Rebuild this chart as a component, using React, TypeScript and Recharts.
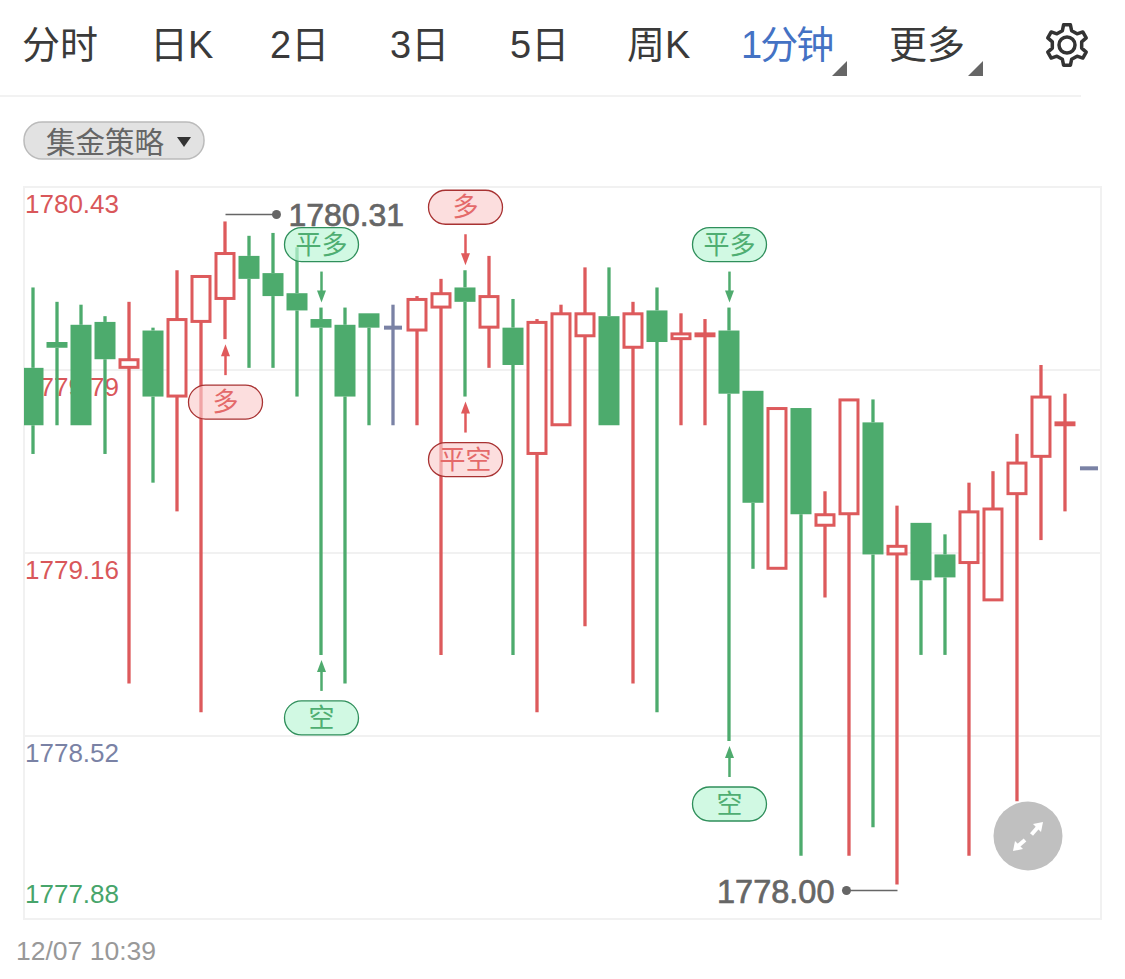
import { ComposedChart, Bar, XAxis, YAxis, CartesianGrid, ReferenceArea, ReferenceDot } from 'recharts';

const SANS = '"Liberation Sans", "Noto Sans CJK SC", sans-serif';
const RED = '#dd5a5c';
const GREEN = '#4dab6d';
const GRAY = '#7a82a5';

const highs = [
    1780.08, 1780.03, 1780.02, 1779.98, 1780.03, 1779.94, 1780.14, 1780.12, 1780.31, 1780.26, 1780.27, 1780.22, 1780.01, 1780.01, 1779.99,
    1780.02, 1780.05, 1780.11, 1780.14, 1780.19, 1780.04, 1779.97, 1780.02, 1780.15, 1780.15, 1780.03, 1780.08, 1779.99, 1779.97, 1780.01,
    1779.72, 1779.66, 1779.66, 1779.37, 1779.69, 1779.69, 1779.32, 1779.26, 1779.22, 1779.40, 1779.44, 1779.57, 1779.81, 1779.71, 1779.45,
];
const lows = [
    1779.50, 1779.60, 1779.60, 1779.50, 1778.70, 1779.40, 1779.30, 1778.60, 1779.90, 1779.80, 1779.80, 1779.70, 1778.80, 1778.70, 1779.60,
    1779.60, 1779.60, 1778.80, 1779.70, 1779.80, 1778.80, 1778.60, 1779.60, 1778.90, 1779.60, 1778.70, 1778.60, 1779.60, 1779.60, 1778.50,
    1779.10, 1779.10, 1778.10, 1779.00, 1778.10, 1778.20, 1778.00, 1778.80, 1778.80, 1778.10, 1778.99, 1778.29, 1779.20, 1779.30, 1779.45,
];
const opens = [
    1779.80, 1779.89, 1779.95, 1779.96, 1779.80, 1779.93, 1779.70, 1779.96, 1780.04, 1780.19, 1780.13, 1780.06, 1779.97, 1779.95, 1779.99,
    1779.94, 1779.93, 1780.01, 1780.08, 1779.94, 1779.94, 1779.50, 1779.60, 1779.91, 1779.98, 1779.87, 1780.00, 1779.90, 1779.91, 1779.93,
    1779.72, 1779.10, 1779.66, 1779.25, 1779.29, 1779.61, 1779.15, 1779.26, 1779.15, 1779.12, 1778.99, 1779.36, 1779.49, 1779.60, 1779.45,
];
const closes = [
    1779.60, 1779.87, 1779.60, 1779.83, 1779.83, 1779.70, 1779.97, 1780.12, 1780.20, 1780.11, 1780.05, 1780.00, 1779.94, 1779.70, 1779.94,
    1779.94, 1780.04, 1780.06, 1780.03, 1780.05, 1779.81, 1779.96, 1779.99, 1779.99, 1779.60, 1779.99, 1779.89, 1779.92, 1779.92, 1779.71,
    1779.33, 1779.66, 1779.29, 1779.29, 1779.69, 1779.15, 1779.18, 1779.06, 1779.07, 1779.30, 1779.31, 1779.47, 1779.70, 1779.61, 1779.45,
];

const yDomain = [1777.88, 1780.43];
const xDomain = [-0.396, 44.48];
const yTicks = [1780.43, 1779.7925, 1779.155, 1778.5175, 1777.88];
const yTickLabels = ['1780.43', '1779.79', '1779.16', '1778.52', '1777.88'];
const yTickColors = ['#d9575a', '#d9575a', '#d9575a', GRAY, '#47a56b'];

const signalIndexes = [8, 12, 12, 18, 18, 29, 29];
const signalLabels = ['多', '平多', '空', '多', '平空', '平多', '空'];
const signalSides = ['below', 'above', 'below', 'above', 'below', 'above', 'below'];

const tabLabels = ['分时', '日K', '2日', '3日', '5日', '周K', '1分钟', '更多'];
const tabLefts = [22, 150, 270, 390, 510, 627, 741, 889];

const chartMargin = { top: 187, right: 24, bottom: 60, left: 23 };

const data = highs.map((high, i) => ({
    i,
    high,
    low: lows[i],
    open: opens[i],
    close: closes[i],
    range: [lows[i], high],
}));

function Candle(props: any) {
    const { x, y, width, height, payload } = props;
    const { high, low, open, close } = payload;
    const cx = x + width / 2;
    const pxPerUnit = high > low ? height / (high - low) : 0;
    const toY = (v: number) => y + (high - v) * pxPerUnit;

    if (open === close) {
        // flat minute: gray cross / dash
        const w = 18;
        return (
            <g>
                {high > low && <line x1={cx} x2={cx} y1={y} y2={y + height} stroke={GRAY} strokeWidth={3.3} />}
                <rect x={cx - w / 2} y={toY(open) - 2} width={w} height={4} fill={GRAY} />
            </g>
        );
    }

    const up = close > open;
    const color = up ? RED : GREEN;
    const top = toY(Math.max(open, close));
    const bottom = toY(Math.min(open, close));
    return (
        <g>
            <line x1={cx} x2={cx} y1={y} y2={top} stroke={color} strokeWidth={3.3} />
            <line x1={cx} x2={cx} y1={bottom} y2={y + height} stroke={color} strokeWidth={3.3} />
            {up ? (
                <rect x={x + 1.5} y={top + 0.5} width={width - 3} height={Math.max(bottom - top - 1, 0.5)} fill="#fff" stroke={color} strokeWidth={3} />
            ) : (
                <rect x={x} y={top} width={width} height={bottom - top} fill={color} />
            )}
        </g>
    );
}

function YTick(props: any) {
    const { y, index } = props;
    const last = index === yTicks.length - 1;
    return (
        <text x={25} y={last ? y - 16 : y + 26} fontFamily={SANS} fontSize={26} fill={yTickColors[index]}>
            {yTickLabels[index]}
        </text>
    );
}

function SignalMark(props: any) {
    const { cx, cy, label, side } = props;
    const isRed = label === '多' || label === '平空';
    const color = isRed ? '#e05a5c' : '#4fab6e';
    const dir = side === 'above' ? -1 : 1;
    const tip = cy + dir * 5;
    const tail = cy + dir * 36;
    const pillY = side === 'above' ? cy - 46 - 34 : cy + 46;
    return (
        <g>
            <line x1={cx} x2={cx} y1={tail} y2={tip + dir * 8} stroke={color} strokeWidth={2.5} />
            <polygon points={`${cx},${tip} ${cx - 4.5},${tip + dir * 12} ${cx + 4.5},${tip + dir * 12}`} fill={color} />
            <rect
                x={cx - 37}
                y={pillY}
                width={74}
                height={34}
                rx={17}
                fill={isRed ? 'rgba(250,205,205,0.65)' : 'rgba(190,247,215,0.7)'}
                stroke={isRed ? '#a83232' : '#2f8f5b'}
                strokeWidth={1.3}
            />
            <text
                x={cx}
                y={pillY + 26}
                textAnchor="middle"
                fontFamily={SANS}
                fontSize={26}
                fill={isRed ? '#e46a6a' : '#4fae72'}
            >
                {label}
            </text>
        </g>
    );
}

function ExtremeMark(props: any) {
    const { cx, cy, value, side } = props;
    const color = '#666';
    if (side === 'high') {
        const ly = cy - 7;
        return (
            <g>
                <line x1={cx} x2={cx + 50} y1={ly} y2={ly} stroke={color} strokeWidth={1.5} />
                <circle cx={cx + 51} cy={ly} r={4.5} fill={color} />
                <text x={cx + 63} y={ly + 11.5} fontFamily={SANS} fontSize={32} fill={color} stroke={color} strokeWidth={0.7}>
                    {value}
                </text>
            </g>
        );
    }
    const ly = cy + 6;
    return (
        <g>
            <line x1={cx} x2={cx - 50} y1={ly} y2={ly} stroke={color} strokeWidth={1.5} />
            <circle cx={cx - 51} cy={ly} r={4.5} fill={color} />
            <text x={cx - 63} y={ly + 12} textAnchor="end" fontFamily={SANS} fontSize={32.5} fill={color} stroke={color} strokeWidth={0.7}>
                {value}
            </text>
        </g>
    );
}

function GearIcon() {
    const pts: string[] = [];
    const teeth = 6;
    for (let t = 0; t < teeth; t++) {
        const a = (t / teeth) * Math.PI * 2 - Math.PI / 2;
        const s = (Math.PI * 2) / teeth;
        [[-0.3, 15], [-0.16, 20.5], [0.16, 20.5], [0.3, 15]].forEach(([f, r]) => {
            pts.push(`${24 + r * Math.cos(a + f * s)},${24 + r * Math.sin(a + f * s)}`);
        });
    }
    return (
        <svg width={48} height={48} style={{ position: 'absolute', left: 1043, top: 21 }}>
            <polygon points={pts.join(' ')} fill="none" stroke="#333" strokeWidth={3.5} strokeLinejoin="round" />
            <circle cx={24} cy={24} r={8} fill="none" stroke="#333" strokeWidth={3.5} />
        </svg>
    );
}

export default function App() {
    return (
        <div style={{ position: 'absolute', left: 0, top: 0, width: 1125, height: 979, background: '#fff', fontFamily: SANS, overflow: 'hidden' }}>
            {tabLabels.map((label, i) => (
                <span
                    key={label}
                    style={{
                        position: 'absolute',
                        left: tabLefts[i],
                        top: 23,
                        fontSize: 38,
                        lineHeight: '44px',
                        whiteSpace: 'nowrap',
                        letterSpacing: label === '1分钟' ? -2 : 0,
                        color: label === '1分钟' ? '#4472c4' : '#3a3a3a',
                    }}
                >
                    {label}
                </span>
            ))}
            <svg width={1125} height={170} style={{ position: 'absolute', left: 0, top: 0 }}>
                <polygon points="847,61 847,76 832,76" fill="#666" />
                <polygon points="983,61 983,76 968,76" fill="#666" />
                <line x1={0} x2={1081} y1={96} y2={96} stroke="#f2f2f2" strokeWidth={2} />
                <rect x={24} y={122} width={180} height={37} rx={18} fill="#e2e2e2" stroke="#bbb" strokeWidth={1.5} />
                <text x={46} y={153} fontFamily={SANS} fontSize={29.5} fill="#666">集金策略</text>
                <polygon points="177,137 191,137 184,147" fill="#333" />
            </svg>
            <GearIcon />

            {/* grid and price labels sit under the candles, so they get their own chart */}
            <div style={{ position: 'absolute', left: 0, top: 0 }}>
                <ComposedChart width={1125} height={979} data={data} margin={chartMargin}>
                    <ReferenceArea x1={xDomain[0]} x2={xDomain[1]} y1={yDomain[0]} y2={yDomain[1]} fill="none" stroke="#f1f1f1" strokeWidth={2} />
                    <CartesianGrid vertical={false} stroke="#f1f1f1" strokeWidth={2} />
                    <XAxis dataKey="i" type="number" domain={xDomain} allowDataOverflow hide height={0} />
                    <YAxis type="number" domain={yDomain} ticks={yTicks} interval={0} width={1} axisLine={false} tickLine={false} tick={<YTick />} />
                    <Bar dataKey="range" barSize={21} isAnimationActive={false} shape={() => null} />
                </ComposedChart>
            </div>
            <div style={{ position: 'absolute', left: 0, top: 0 }}>
                <ComposedChart width={1125} height={979} data={data} margin={chartMargin}>
                    <XAxis dataKey="i" type="number" domain={xDomain} allowDataOverflow hide height={0} />
                    <YAxis type="number" domain={yDomain} ticks={yTicks} width={1} axisLine={false} tickLine={false} tick={false} />
                    <Bar dataKey="range" barSize={21} isAnimationActive={false} shape={<Candle />} />
                    {signalIndexes.map((idx, n) => (
                        <ReferenceDot
                            key={n}
                            x={idx}
                            y={signalSides[n] === 'above' ? highs[idx] : lows[idx]}
                            shape={(p: any) => <SignalMark {...p} label={signalLabels[n]} side={signalSides[n]} />}
                        />
                    ))}
                    <ReferenceDot x={8} y={highs[8]} shape={(p: any) => <ExtremeMark {...p} value="1780.31" side="high" />} />
                    <ReferenceDot x={36} y={lows[36]} shape={(p: any) => <ExtremeMark {...p} value="1778.00" side="low" />} />
                </ComposedChart>
            </div>

            <div style={{ position: 'absolute', left: 16, top: 935, fontSize: 26.5, lineHeight: '32px', color: '#999' }}>12/07 10:39</div>

            <svg width={70} height={70} style={{ position: 'absolute', left: 992.5, top: 801 }}>
                <circle cx={35} cy={35} r={34.5} fill="#c0c0c0" />
                <line x1={38.5} y1={33.5} x2={45} y2={26} stroke="#fff" strokeWidth={4} />
                <polygon points="50,21 40,23 48,31" fill="#fff" />
                <line x1={32} y1={39} x2={25} y2={45} stroke="#fff" strokeWidth={4} />
                <polygon points="20,50 30,48 22,40" fill="#fff" />
            </svg>
        </div>
    );
}
